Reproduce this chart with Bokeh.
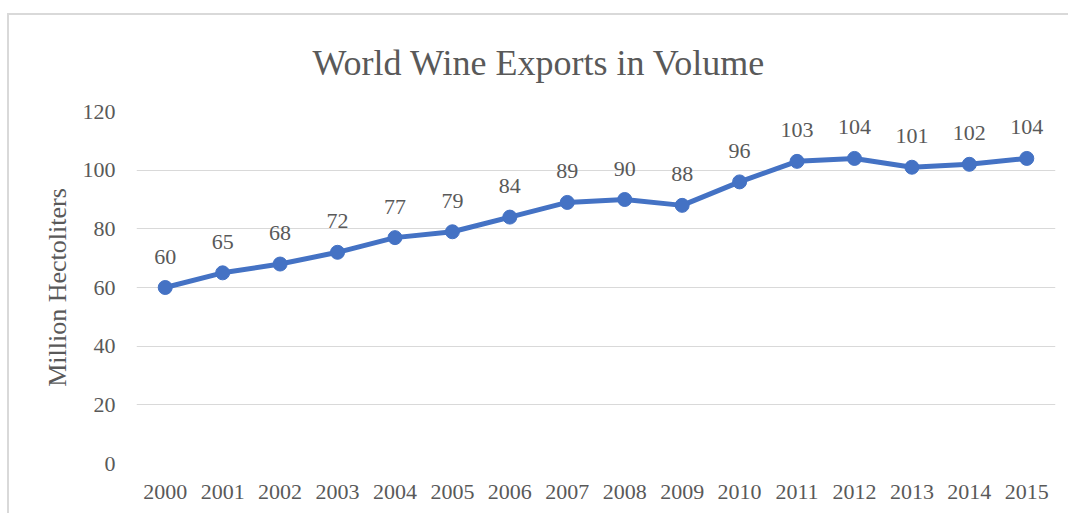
from bokeh.plotting import figure
from bokeh.models import ColumnDataSource, FactorRange, Range1d
from bokeh.core.properties import value
from bokeh.embed import file_html
from bokeh.resources import INLINE

years = [str(y) for y in range(2000, 2016)]
exports = [60, 65, 68, 72, 77, 79, 84, 89, 90, 88, 96, 103, 104, 101, 102, 104]
labels = [str(v) for v in exports]
y_ticks = [0, 20, 40, 60, 80, 100, 120]

FONT = "Liberation Serif"
GREY = "#595959"
BLUE = "#4472C4"

src = ColumnDataSource(dict(x=years, y=exports, label=labels))

p = figure(
    width=1061, height=500,
    x_range=FactorRange(*years, range_padding=0),
    y_range=Range1d(0, 120),
    output_backend="svg", toolbar_location=None,
    min_border_left=127, min_border_right=15,
    min_border_top=95, min_border_bottom=52,
)
p.margin = (13, 0, 0, 7)
p.styles = {"border-left": "2px solid #d9d9d9", "border-top": "2px solid #d9d9d9"}

p.title.text = "World Wine Exports in Volume"
p.title.text_font = FONT
p.title.text_font_size = "36px"
p.title.text_font_style = "normal"
p.title.text_color = GREY
p.title.align = "left"
p.title.offset = 176
p.title.vertical_align = "top"
p.title.standoff = 54

p.line("x", "y", source=src, line_color=BLUE, line_width=5)
p.scatter("x", "y", source=src, size=14, fill_color=BLUE, line_color=BLUE)
p.text("x", "y", text="label", source=src, y_offset=-31,
       text_align="center", text_baseline="middle",
       text_font=value(FONT), text_font_size="22px", text_color=GREY)

p.outline_line_color = None
p.xgrid.grid_line_color = None
p.ygrid.grid_line_color = "#d9d9d9"
p.ygrid.grid_line_width = 1
p.yaxis.ticker = y_ticks

for ax in (p.xaxis[0], p.yaxis[0]):
    ax.axis_line_color = None
    ax.major_tick_line_color = None
    ax.minor_tick_line_color = None
    ax.major_label_text_font = FONT
    ax.major_label_text_font_size = "22px"
    ax.major_label_text_color = GREY

p.xaxis.major_label_standoff = 15
p.yaxis.major_label_standoff = 15
p.yaxis.axis_label = "Million Hectoliters"
p.yaxis.axis_label_text_font = FONT
p.yaxis.axis_label_text_font_size = "26px"
p.yaxis.axis_label_text_font_style = "normal"
p.yaxis.axis_label_text_color = GREY
p.yaxis.axis_label_standoff = 8

open("out.html", "w").write(file_html(p, INLINE))
